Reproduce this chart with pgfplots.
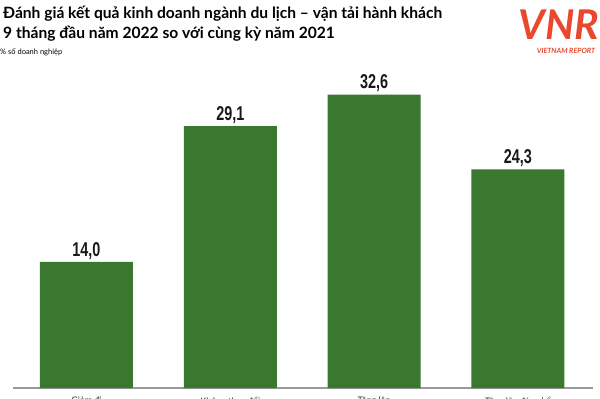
\documentclass[border=0pt]{standalone}
\usepackage{pgfplots}
\pgfplotsset{compat=1.18}
\usepackage{fontspec}
\setmainfont{Lato}
\newfontfamily\numfont{Liberation Sans}[FakeStretch=0.72]
\definecolor{barg}{HTML}{3A772F}
\definecolor{vnr}{HTML}{E8482E}
\begin{document}
\begin{tikzpicture}[x=1pt,y=1pt]
\begin{axis}[
  at={(0,0)}, anchor=south west,
  scale only axis, width=580pt, height=328pt,
  xmin=-0.511, xmax=3.522, ymin=0, ymax=36.44,
  axis x line=bottom, axis y line=none,
  x axis line style={draw=gray!80, line width=1.5pt, -},
  xtick=data, xticklabels={Giảm đi, Không thay đổi, Tăng lên, Tăng lên đáng kể},
  xtick style={draw=none},
  xticklabel style={font=\fontsize{9}{9}\selectfont, text=black!80, anchor=north, yshift=-1pt},
  ybar, bar width=93pt,
  nodes near coords={\pgfmathprintnumber[fixed, fixed zerofill, precision=1, use comma, assume math mode=true]{\pgfplotspointmeta}},
  nodes near coords style={font=\numfont\bfseries\fontsize{20}{20}\selectfont, text=black!90, yshift=-1pt},
  clip=false,
]
\addplot[fill=barg, draw=none] coordinates {(0,14.0) (1,29.1) (2,32.6) (3,24.3)};
\end{axis}
% title
\node[anchor=base west, inner sep=0, font=\bfseries\fontsize{15.6}{15.6}\selectfont] at (-10,369) {Đánh giá kết quả kinh doanh ngành du lịch – vận tải hành khách};
\node[anchor=base west, inner sep=0, font=\bfseries\fontsize{15.6}{15.6}\selectfont] at (-10,349) {9 tháng đầu năm 2022 so với cùng kỳ năm 2021};
\node[anchor=base west, inner sep=0, font=\fontsize{7.5}{7.5}\selectfont] at (-13,333) {\% số doanh nghiệp};
% logo
\node[anchor=base, inner sep=0, text=vnr, font=\bfseries\itshape\fontsize{41}{41}\selectfont] at (546,348) {VNR};
\node[anchor=base, inner sep=0, text=vnr, font=\bfseries\itshape\fontsize{7.2}{7.2}\selectfont] at (553,334) {VIETNAM REPORT};
\pgfresetboundingbox
\useasboundingbox (-13,-11) rectangle (587,388);
\end{tikzpicture}
\end{document}
